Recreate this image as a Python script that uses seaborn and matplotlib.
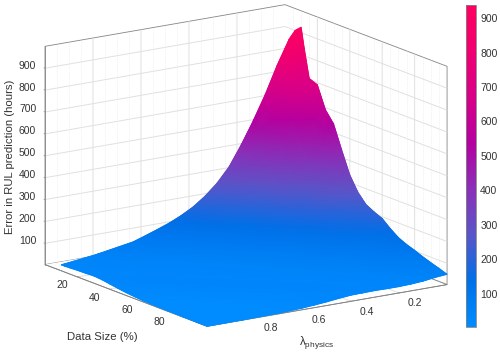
"""
plot.py
Error surface over data size and physics weight, with a colour bar.
"""

import numpy as np
import matplotlib
matplotlib.use("Agg")
import matplotlib.pyplot as plt
import seaborn as sns
from matplotlib.colors import Normalize
from mpl_toolkits.mplot3d import proj3d

data_size = [10, 12, 15, 20, 25, 30, 35, 40, 45, 50, 55, 60, 65, 70, 75, 80, 85, 90, 95, 100]
lambda_physics = [0, 0.025, 0.05, 0.1, 0.15, 0.2, 0.25, 0.3, 0.35, 0.4, 0.45, 0.5, 0.55, 0.6, 0.65, 0.7, 0.85, 1]

# one row per data size, one column per lambda
error_hours = [
    [925, 915, 880, 770, 645, 535, 435, 345, 280, 230, 190, 160, 135, 115, 96, 78, 50, 30],
    [830, 820, 800, 715, 600, 495, 400, 315, 258, 212, 175, 149, 126, 108, 90, 75, 47, 30],
    [705, 700, 690, 650, 545, 445, 355, 283, 232, 193, 162, 137, 117, 101, 85, 71, 43, 31],
    [690, 675, 650, 550, 450, 358, 290, 237, 198, 165, 140, 118, 101, 87, 73, 60, 38, 33],
    [590, 585, 560, 455, 365, 290, 240, 198, 167, 140, 120, 103, 87, 73, 62, 52, 33, 34],
    [540, 510, 465, 375, 295, 245, 202, 168, 142, 120, 104, 90, 75, 62, 52, 44, 32, 36],
    [435, 420, 375, 295, 248, 205, 172, 145, 123, 105, 90, 75, 63, 52, 45, 39, 32, 33],
    [335, 325, 300, 252, 208, 172, 146, 123, 106, 92, 77, 63, 54, 45, 39, 34, 33, 27],
    [270, 268, 255, 210, 175, 148, 127, 108, 92, 78, 66, 54, 46, 40, 35, 31, 35, 21],
    [228, 228, 214, 178, 150, 127, 110, 94, 79, 65, 55, 47, 40, 35, 33, 32, 33, 16],
    [208, 196, 178, 150, 128, 110, 95, 80, 67, 55, 47, 41, 36, 32, 32, 33, 27, 12],
    [192, 170, 153, 130, 110, 96, 81, 67, 57, 48, 42, 36, 33, 32, 33, 34, 22, 9],
    [160, 142, 130, 112, 97, 82, 68, 56, 48, 41, 36, 32, 32, 33, 34, 34, 17, 7],
    [133, 122, 112, 98, 83, 68, 58, 49, 42, 37, 34, 32, 33, 34, 32, 29, 13, 6],
    [116, 107, 99, 84, 70, 58, 49, 42, 36, 32, 32, 33, 34, 35, 30, 24, 10, 5],
    [103, 93, 85, 71, 59, 50, 43, 37, 34, 32, 33, 34, 32, 30, 24, 18, 7, 5],
    [88, 79, 72, 59, 51, 43, 37, 32, 32, 33, 34, 35, 30, 25, 19, 14, 6, 4],
    [75, 66, 60, 51, 43, 37, 34, 32, 32, 33, 32, 31, 25, 19, 14, 10, 5, 4],
    [63, 56, 52, 44, 38, 33, 33, 33, 34, 35, 30, 26, 20, 14, 11, 8, 5, 3],
    [50, 48, 45, 38, 34, 32, 32, 33, 32, 31, 26, 20, 15, 11, 8, 6, 4, 3],
]

size_ticks = [20, 40, 60, 80]
lambda_ticks = [0.2, 0.4, 0.6, 0.8]
error_ticks = [100, 200, 300, 400, 500, 600, 700, 800, 900]
size_minor = [5, 10, 15, 25, 30, 35, 45, 50, 55, 65, 70, 75, 85, 90, 95]
lambda_minor = [0.05, 0.1, 0.15, 0.25, 0.3, 0.35, 0.45, 0.5, 0.55, 0.65, 0.7, 0.75, 0.85, 0.9, 0.95]

cbar_colors = ["#008cff", "#0070e8", "#5a55c8", "#8a30b8", "#b400a0", "#d80088", "#f00070", "#ff0060"]

sns.set_theme(style="white")
plt.rcParams["font.family"] = ["Liberation Sans", "DejaVu Sans"]
plt.rcParams["mathtext.fontset"] = "custom"
plt.rcParams["mathtext.rm"] = "Liberation Sans"
plt.rcParams["grid.color"] = "#e0e0e0"
plt.rcParams["grid.linewidth"] = 0.7
TEXT = "#333333"
EDGE = "#858585"

W, H = 500, 355
cmap = sns.blend_palette(cbar_colors, as_cmap=True)
norm = Normalize(3.4, 938)

fig = plt.figure(figsize=(W / 100, H / 100), dpi=100)
rect = [12.9 / W, -43.6 / H, 454 / W, 454 / H]
ax = fig.add_axes(rect, projection="3d", proj_type="ortho")
ax.view_init(elev=14.9, azim=-34.05)
ax.set_box_aspect((1, 1, 0.78))
ax.set_xlim(0, 100)
ax.set_ylim(1, 0)
ax.set_zlim(3, 1000)

X, Y = np.meshgrid(data_size, lambda_physics, indexing="ij")
Z = np.array(error_hours, dtype=float)
surf = ax.plot_surface(X, Y, Z, cmap=cmap, norm=norm, rstride=1, cstride=1,
                       linewidth=0.4, antialiased=True, shade=False)
surf.set_edgecolor("face")

# faint minor grid on both back walls
for d in size_minor:
    ax.plot([d, d], [0, 0], [3, 1000], ls=":", lw=0.5, color="#e6e6e6")
for l in lambda_minor:
    ax.plot([0, 0], [l, l], [3, 1000], ls=":", lw=0.5, color="#e6e6e6")

ax.set_xticks(size_ticks)
ax.set_yticks(lambda_ticks)
ax.set_zticks(error_ticks)
ax.set_xticklabels([])
ax.set_yticklabels([])
ax.set_zticklabels([])
ax.tick_params(colors=EDGE, pad=0)
for axis in (ax.xaxis, ax.yaxis, ax.zaxis):
    axis.set_pane_color((1, 1, 1, 1))
    axis.pane.set_edgecolor(EDGE)
    axis.pane.set_linewidth(0.6)
    axis.line.set_color(EDGE)
    axis.line.set_linewidth(0.6)
    axis._axinfo["tick"]["inward_factor"] = 0
    axis._axinfo["tick"]["outward_factor"] = 0.08
    axis._axinfo["tick"]["linewidth"] = {True: 0.5, False: 0.3}
ax.zaxis._axinfo["juggled"] = (1, 2, 0)

M = ax.get_proj()


def to_screen(xs, ys, zs):
    px, py, _ = proj3d.proj_transform(np.ravel(xs), np.ravel(ys), np.ravel(zs), M)
    return np.asarray(px), np.asarray(py)


# same mesh again in screen space, gouraud gives the smooth colour blend
over = fig.add_axes(rect)
# get_xlim on a 3d axes gives data limits, the screen limits are in viewLim
over.set_xlim(ax.viewLim.intervalx)
over.set_ylim(ax.viewLim.intervaly)
over.axis("off")
px, py = to_screen(X, Y, Z)
n_size, n_lam = Z.shape
triangles = []
for i in range(n_size - 1):
    for j in range(n_lam - 1):
        a, b = i * n_lam + j, i * n_lam + j + 1
        c, d = (i + 1) * n_lam + j, (i + 1) * n_lam + j + 1
        # split each cell along the diagonal with the smaller height change
        if abs(Z[i, j + 1] - Z[i + 1, j]) <= abs(Z[i, j] - Z[i + 1, j + 1]):
            triangles += [[a, b, c], [b, c, d]]
        else:
            triangles += [[a, b, d], [a, c, d]]
over.tripcolor(px, py, np.array(triangles), Z.ravel(), shading="gouraud", cmap=cmap, norm=norm)

# tick labels at a fixed pixel offset from their ticks
for d in size_ticks:
    tx, ty = to_screen(d, 1, 3)
    over.annotate(str(d), (tx[0], ty[0]), xytext=(-15.3, -8.4), textcoords="offset pixels",
                  fontsize=7.5, color=TEXT, ha="center", va="center", annotation_clip=False)
for l in lambda_ticks:
    tx, ty = to_screen(100, l, 3)
    over.annotate(str(l), (tx[0], ty[0]), xytext=(16, -10.5), textcoords="offset pixels",
                  fontsize=7.5, color=TEXT, ha="center", va="center", annotation_clip=False)
for e in error_ticks:
    tx, ty = to_screen(0, 1, e)
    over.annotate(str(e), (tx[0], ty[0]), xytext=(-8.8, 2.6), textcoords="offset pixels",
                  fontsize=7.5, color=TEXT, ha="right", va="center", annotation_clip=False)

cax = fig.add_axes([466 / W, 28 / H, 10 / W, 322 / H])
cb = fig.colorbar(plt.cm.ScalarMappable(norm=norm, cmap=cmap), cax=cax)
cb.set_ticks(error_ticks)
cb.ax.tick_params(labelsize=7.5, colors=TEXT, length=2, width=0.5, direction="in", pad=3)
cb.outline.set_edgecolor(EDGE)
cb.outline.set_linewidth(0.6)

fig.text(102 / W, 1 - 337 / H, "Data Size (%)", fontsize=8.2, color=TEXT, ha="center", va="center")
fig.text(317 / W, 1 - 342 / H, r"$\mathrm{\lambda_{physics}}$", fontsize=8.5, color=TEXT, ha="center", va="center")
fig.text(10 / W, 1 - 157 / H, "Error in RUL prediction (hours)", fontsize=8.2, color=TEXT,
         rotation=90, ha="center", va="center")

fig.savefig("out.png", dpi=100)
